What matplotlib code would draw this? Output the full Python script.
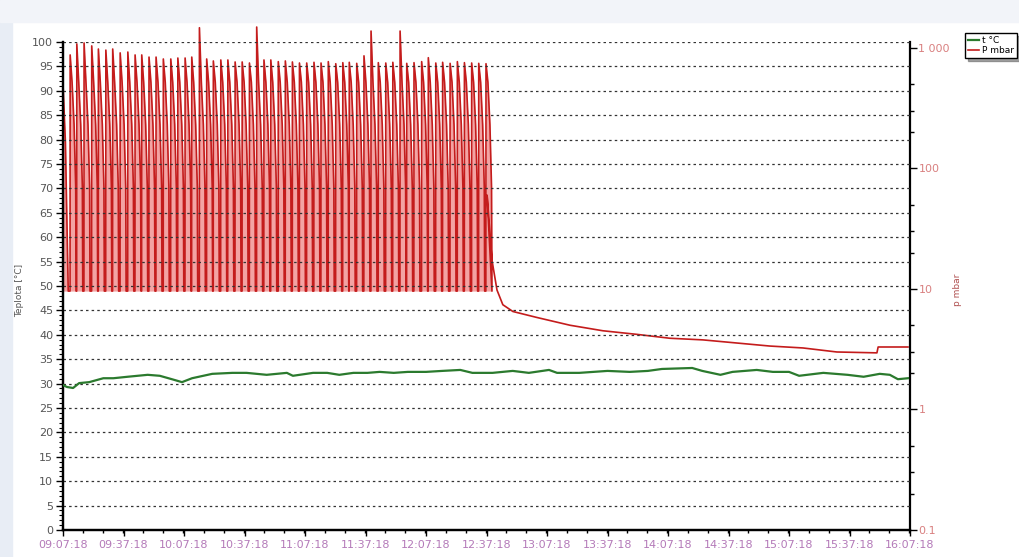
import datetime as dt

import matplotlib
matplotlib.use("Agg")
from matplotlib import pyplot as plt
from matplotlib import dates as mdates
from matplotlib import ticker
from matplotlib.patches import Rectangle

# --- data ------------------------------------------------------------------
start = dt.datetime(2018, 1, 1, 9, 7, 18)

x_tick_labels = ["09:07:18", "09:37:18", "10:07:18", "10:37:18", "11:07:18",
                 "11:37:18", "12:07:18", "12:37:18", "13:07:18", "13:37:18",
                 "14:07:18", "14:37:18", "15:07:18", "15:37:18", "16:07:18"]

# temperature, minutes after 09:07:18 / deg C
temp_min = [0, 2, 5, 8, 13, 20, 25, 32, 42, 48, 54, 59, 64, 74, 84, 91, 101,
            111, 114, 124, 131, 137, 144, 151, 157, 164, 171, 180, 188, 197,
            203, 212, 213, 223, 231, 241, 245, 256, 270, 281, 290, 297, 312,
            317, 326, 332, 344, 352, 360, 365, 377, 389, 397, 405, 410, 414,
            419]
temp_val = [29.7, 29.3, 29.1, 30.1, 30.3, 31.1, 31.1, 31.4, 31.8, 31.6, 30.9,
            30.3, 31.1, 32.0, 32.2, 32.2, 31.8, 32.2, 31.6, 32.2, 32.2, 31.8,
            32.2, 32.2, 32.4, 32.2, 32.4, 32.4, 32.6, 32.8, 32.2, 32.2, 32.2,
            32.6, 32.2, 32.8, 32.2, 32.2, 32.6, 32.4, 32.6, 33.0, 33.2, 32.6,
            31.8, 32.4, 32.8, 32.4, 32.4, 31.6, 32.2, 31.8, 31.4, 32.0, 31.8,
            30.9, 31.1]

# pressure cycles: start of each cycle (minutes) and its peak (mbar)
cycle_min = [3.5, 6.8, 10.4, 14.2, 17.5, 21.2, 24.6, 28.3, 32.1, 35.7, 39.0,
             42.6, 46.1, 49.7, 53.4, 56.9, 60.5, 63.8, 67.6, 71.2, 74.5, 78.2,
             81.7, 85.3, 88.8, 92.4, 96.0, 99.6, 103.0, 106.7, 110.2, 113.7,
             117.2, 120.8, 124.4, 127.9, 131.5, 135.2, 138.7, 141.9, 145.6,
             149.2, 152.7, 156.3, 160.0, 163.5, 167.1, 170.4, 174.0, 177.8,
             181.1, 184.8, 188.2, 191.9, 195.5, 199.0, 202.6, 206.1, 209.7]
cycle_peak = [875, 1080, 1100, 1040, 980, 960, 980, 910, 925, 875, 875, 840,
              840, 810, 810, 825, 825, 840, 1470, 810, 780, 795, 795, 765, 765,
              750, 1490, 795, 795, 770, 780, 765, 750, 750, 760, 750, 770, 740,
              755, 760, 745, 860, 1380, 755, 750, 760, 1380, 745, 755, 770,
              830, 750, 760, 745, 770, 755, 750, 745, 740]
# shape of one cycle: offsets (min) and levels (mbar) after its peak
cycle_dt = [0.0, 0.05, 1.0, 2.0, 2.8, 3.0]
cycle_lvl = [520, 230, 70]
p_floor = 9.6

# pump-down tail after the last cycle
tail_min = [210.3, 212.7, 215.2, 218.1, 223.1, 235.0, 251.4, 267.7, 284.6,
            300.9, 317.3, 334.2, 350.5, 366.9, 383.7, 403.6, 404.2, 419.0]
tail_val = [60, 17.4, 9.8, 7.4, 6.5, 5.8, 5.0, 4.5, 4.2, 3.9, 3.78, 3.56,
            3.36, 3.24, 3.0, 2.95, 3.3, 3.3]


def at(m):
    return start + dt.timedelta(minutes=m)


c_t, c_v = [at(0), at(1.2), at(2.6)], [500, 165, p_floor]
for t, pk in zip(cycle_min, cycle_peak):
    for d, v in zip(cycle_dt, [p_floor, pk] + cycle_lvl + [p_floor]):
        c_t.append(at(t + d))
        c_v.append(v)
p_t = c_t + [at(m) for m in tail_min]
p_v = c_v + tail_val

# --- figure ----------------------------------------------------------------
W, H = 1019, 557
fig = plt.figure(figsize=(W / 100, H / 100), dpi=100)
fig.patches.append(Rectangle((0, 0), 12 / W, 1, transform=fig.transFigure,
                             color="#e8edf5", zorder=-1))
fig.patches.append(Rectangle((0, 1 - 22 / H), 1, 22 / H,
                             transform=fig.transFigure, color="#f2f4f9",
                             zorder=-1))

ax = fig.add_axes([63 / W, 27 / H, 847 / W, 488 / H])
ax2 = ax.twinx()

ax.set_xlim(at(0), at(420))
ax.set_ylim(0, 100)
ax2.set_ylim(0.1, 1120)
ax2.set_yscale("log")

ax.set_zorder(ax2.get_zorder() + 1)
ax.patch.set_visible(False)

ax.yaxis.set_major_locator(ticker.MultipleLocator(5))
ax.yaxis.set_minor_locator(ticker.MultipleLocator(1))
ax.grid(axis="y", which="major", linestyle=(0, (2, 2.5)), color="#333333",
        linewidth=0.9)

green, = ax.plot([at(m) for m in temp_min], temp_val, color="#2b7a2e",
                 linewidth=1.6, zorder=3)
ax2.fill_between(c_t, p_floor, c_v, color="#f3a3a3", linewidth=0, zorder=1)
red, = ax2.plot(p_t, p_v, color="#c41c1c", linewidth=1.2, clip_on=False,
                zorder=2)

ax.set_xticks([at(30 * i) for i in range(len(x_tick_labels))])
ax.set_xticklabels(x_tick_labels)
ax.xaxis.set_minor_locator(mdates.MinuteLocator(byminute=[7, 17, 27, 37, 47, 57]))

ax.tick_params(axis="x", which="major", labelsize=8, labelcolor="#b47ab9",
               length=4, width=1, pad=3)
ax.tick_params(axis="x", which="minor", length=2.5, width=1)
ax.tick_params(axis="y", which="major", labelsize=8, labelcolor="#555555",
               length=5, width=1, pad=2)
ax.tick_params(axis="y", which="minor", length=3, width=0.8)

ax2.yaxis.set_major_locator(ticker.FixedLocator([0.1, 1, 10, 100, 1000]))
ax2.yaxis.set_major_formatter(ticker.FixedFormatter(["0.1", "1", "10", "100", "1 000"]))
ax2.yaxis.set_minor_locator(ticker.LogLocator(base=10, subs=(2, 3, 5)))
ax2.yaxis.set_minor_formatter(ticker.NullFormatter())
ax2.tick_params(axis="y", which="major", labelsize=8, labelcolor="#d98080",
                length=5, width=1, pad=1)
ax2.tick_params(axis="y", which="minor", length=3, width=1)

for a in (ax, ax2):
    a.spines["top"].set_visible(False)
    for s in ("left", "right", "bottom"):
        a.spines[s].set_linewidth(1.6)
ax.spines["right"].set_visible(False)

fig.text(20 / W, 1 - 290 / H, "Teplota [°C]", rotation=90, fontsize=6.5,
         color="#555555", ha="center", va="center")
fig.text(957 / W, 1 - 290 / H, "p mbar", rotation=90, fontsize=6.5,
         color="#b05050", ha="center", va="center")

fig.legend([green, red], ["t °C", "P mbar"], loc="upper left",
           bbox_to_anchor=(965 / W, 1 - 33 / H), fontsize=6.5,
           fancybox=False, edgecolor="black", shadow=True, borderpad=0.3,
           handlelength=1.3, handletextpad=0.3, labelspacing=0.15,
           borderaxespad=0)

fig.savefig("out.png", dpi=100)
